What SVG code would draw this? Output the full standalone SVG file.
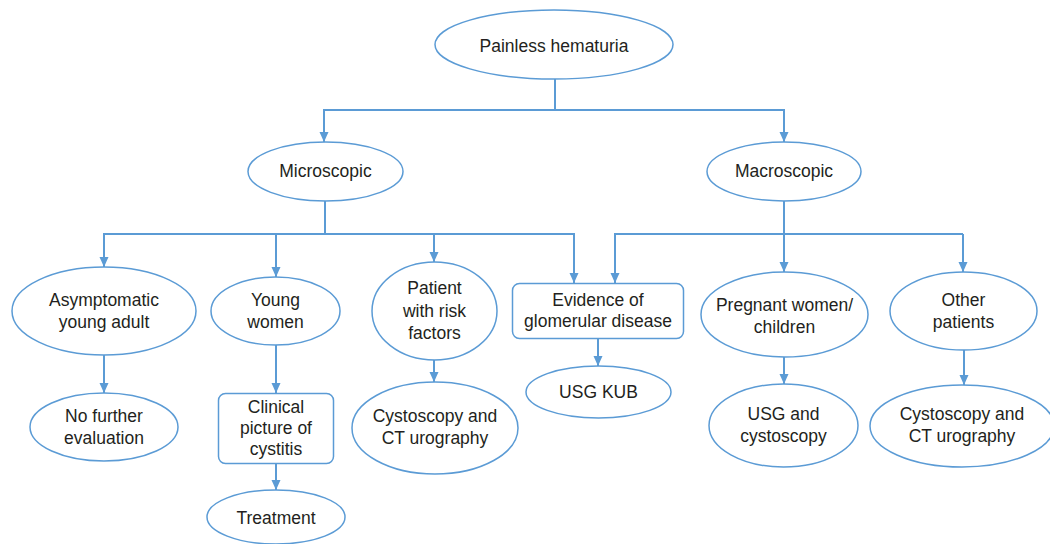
<svg xmlns="http://www.w3.org/2000/svg" width="1050" height="544" viewBox="0 0 1050 544">
  <defs>
    <marker id="arrow" markerUnits="userSpaceOnUse" markerWidth="12" markerHeight="12" viewBox="0 0 12 12" refX="10" refY="6" orient="auto">
      <path d="M0,1.5 L10,6 L0,10.5 Z" fill="#5b9bd5"/>
    </marker>
    <style>
      .shape { fill: #ffffff; stroke: #5b9bd5; stroke-width: 1.5; }
      .link { fill: none; stroke: #5b9bd5; stroke-width: 2; }
      .arr { fill: none; stroke: #5b9bd5; stroke-width: 2; marker-end: url(#arrow); }
      text { font-family: "Liberation Sans", Arial, sans-serif; font-size: 17.5px; fill: #231f20; text-anchor: middle; }
    </style>
  </defs>

  <rect width="1050" height="544" fill="#ffffff"/>

  <!-- connectors -->
  <g id="connectors">
    <!-- root split -->
    <path class="link" d="M555,79 V110 M323,110 H785"/>
    <path class="arr" d="M324,110 V142"/>
    <path class="arr" d="M784,110 V142"/>
    <!-- microscopic branch -->
    <path class="link" d="M325,201 V234 M103,234 H575"/>
    <path class="arr" d="M104,234 V267"/>
    <path class="arr" d="M276,234 V277"/>
    <path class="arr" d="M434,234 V262"/>
    <path class="arr" d="M574,234 V283"/>
    <!-- macroscopic branch -->
    <path class="link" d="M784,201 V234 M614,234 H963"/>
    <path class="arr" d="M615,234 V283"/>
    <path class="arr" d="M784,234 V272"/>
    <path class="arr" d="M963,234 V272"/>
    <!-- second level -->
    <path class="arr" d="M104,355 V393"/>
    <path class="arr" d="M276,345 V393"/>
    <path class="arr" d="M276,463 V490"/>
    <path class="arr" d="M434,360 V382"/>
    <path class="arr" d="M598,338 V366"/>
    <path class="arr" d="M784,357 V384"/>
    <path class="arr" d="M964,350 V385"/>
  </g>

  <g id="painless-hematuria">
    <ellipse class="shape" cx="554" cy="44.5" rx="119" ry="34.5"/>
    <text x="554" y="51.5">Painless hematuria</text>
  </g>

  <g id="microscopic">
    <ellipse class="shape" cx="325.5" cy="171.5" rx="77.5" ry="29.5"/>
    <text x="325.5" y="177">Microscopic</text>
  </g>

  <g id="macroscopic">
    <ellipse class="shape" cx="784" cy="171.5" rx="77" ry="29.5"/>
    <text x="784" y="177">Macroscopic</text>
  </g>

  <g id="asymptomatic-young-adult">
    <ellipse class="shape" cx="104" cy="311" rx="92" ry="44"/>
    <text x="104" y="306">Asymptomatic</text>
    <text x="104" y="327.5">young adult</text>
  </g>

  <g id="young-women">
    <ellipse class="shape" cx="275.5" cy="311" rx="64.5" ry="34"/>
    <text x="275.5" y="306">Young</text>
    <text x="275.5" y="327.5">women</text>
  </g>

  <g id="patient-risk-factors">
    <ellipse class="shape" cx="434.5" cy="311" rx="62.5" ry="49"/>
    <text x="434.5" y="294">Patient</text>
    <text x="434.5" y="316.5">with risk</text>
    <text x="434.5" y="338.5">factors</text>
  </g>

  <g id="glomerular-disease">
    <rect class="shape" x="512.5" y="283.5" width="171" height="55" rx="7"/>
    <text x="598" y="306">Evidence of</text>
    <text x="598" y="327">glomerular disease</text>
  </g>

  <g id="pregnant-women-children">
    <ellipse class="shape" cx="784.5" cy="314.5" rx="83.5" ry="42.5"/>
    <text x="784.5" y="310.5">Pregnant women/</text>
    <text x="784.5" y="332.5">children</text>
  </g>

  <g id="other-patients">
    <ellipse class="shape" cx="963.5" cy="311" rx="73.5" ry="39"/>
    <text x="963.5" y="306">Other</text>
    <text x="963.5" y="327.5">patients</text>
  </g>

  <g id="no-further-evaluation">
    <ellipse class="shape" cx="104" cy="427" rx="74" ry="34"/>
    <text x="104" y="422">No further</text>
    <text x="104" y="444">evaluation</text>
  </g>

  <g id="clinical-cystitis">
    <rect class="shape" x="218.5" y="393.5" width="115" height="70" rx="7"/>
    <text x="276" y="412.5">Clinical</text>
    <text x="276" y="433.5">picture of</text>
    <text x="276" y="455">cystitis</text>
  </g>

  <g id="treatment">
    <ellipse class="shape" cx="276" cy="517" rx="69" ry="27"/>
    <text x="276" y="523.5">Treatment</text>
  </g>

  <g id="cysto-ct-left">
    <ellipse class="shape" cx="435" cy="428" rx="83" ry="46"/>
    <text x="435" y="422">Cystoscopy and</text>
    <text x="435" y="444">CT urography</text>
  </g>

  <g id="usg-kub">
    <ellipse class="shape" cx="598.5" cy="392" rx="72.5" ry="26"/>
    <text x="598.5" y="398">USG KUB</text>
  </g>

  <g id="usg-cystoscopy">
    <ellipse class="shape" cx="783.5" cy="425.5" rx="74.5" ry="41.5"/>
    <text x="783.5" y="420">USG and</text>
    <text x="783.5" y="441.5">cystoscopy</text>
  </g>

  <g id="cysto-ct-right">
    <ellipse class="shape" cx="962" cy="426" rx="92" ry="41"/>
    <text x="962" y="420">Cystoscopy and</text>
    <text x="962" y="441.5">CT urography</text>
  </g>
</svg>
